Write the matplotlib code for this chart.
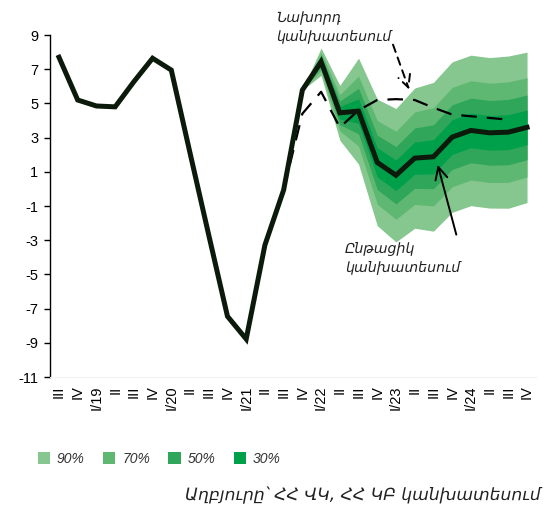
import matplotlib
matplotlib.use("Agg")
import numpy as np
import matplotlib.pyplot as plt
from matplotlib.patches import Patch

# եռամսյակներ՝ 2018 III -> 2024 IV
quarters = ['III', 'IV', 'I/19', 'II', 'III', 'IV', 'I/20', 'II', 'III', 'IV',
            'I/21', 'II', 'III', 'IV', 'I/22', 'II', 'III', 'IV', 'I/23', 'II',
            'III', 'IV', 'I/24', 'II', 'III', 'IV']

# ընթացիկ կանխատեսում (փաստացի + կանխատեսում)
current = [7.7, 5.2, 4.85, 4.8, 6.27, 7.64, 6.95, 2.1, -2.7, -7.45,
           -8.78, -3.28, -0.06, 5.78, 7.44, 4.45, 4.55, 1.55, 0.8, 1.8,
           1.88, 3.03, 3.42, 3.28, 3.32, 3.6]

# նախորդ կանխատեսում
prev_start = 12
previous = [-0.06, 4.4, 5.68, 3.6, 4.6, 5.2, 5.25, 5.2, 4.75, 4.35,
            4.25, 4.15, 4.05]

# 90% միջակայքի կես-լայնություն
fan_start = 13
half90 = [0.0, 0.8, 1.6, 3.1, 3.7, 3.9, 4.1, 4.35, 4.4, 4.4, 4.4, 4.45, 4.4]

levels = ['90%', '70%', '50%', '30%']
level_share = [1.0, 0.66, 0.43, 0.23]
colors = ['#85c78e', '#5fb872', '#30a65b', '#00a04b']

plt.rcParams['font.family'] = ['Liberation Sans', 'DejaVu Sans']
plt.rcParams['axes.unicode_minus'] = False

fig = plt.figure(figsize=(5.53, 5.09), dpi=100)
ax = fig.add_axes([0.0897, 0.2593, 0.8803, 0.6719])

x = np.arange(len(quarters))
xf = x[fan_start:]
cf = np.array(current[fan_start:])
hw = np.array(half90)
for share, col in zip(level_share, colors):
    ax.fill_between(xf, cf - share * hw, cf + share * hw, color=col, lw=0)

xp = x[prev_start:prev_start + len(previous)]
ax.plot(xp, previous, color='black', lw=1.6, dashes=(7, 4.5))
ax.plot(x, current, color='#0b1a0b', lw=3.6, solid_joinstyle='miter')

ax.set_xlim(-0.5, len(quarters) - 0.5)
ax.set_ylim(-11, 9)
ax.set_yticks(np.arange(-11, 10, 2))
ax.set_xticks(x)
ax.set_xticklabels(quarters, rotation=90, fontsize=10.5)
ax.tick_params(axis='x', length=0, pad=6)
ax.tick_params(axis='y', length=4, width=1, pad=4, labelsize=10.5)
for s in ['top', 'right']:
    ax.spines[s].set_visible(False)
ax.spines['bottom'].set_color('#f2f2f2')
ax.spines['left'].set_linewidth(1)

arm = ['DejaVu Sans']
ax.annotate('', xy=(18.75, 5.66), xytext=(17.79, 8.59),
            arrowprops=dict(arrowstyle='->', color='black', lw=1.4,
                            linestyle=(0, (4, 3)), mutation_scale=22))
ax.annotate('', xy=(20.19, 1.56), xytext=(21.26, -2.83),
            arrowprops=dict(arrowstyle='->', color='black', lw=1.4,
                            mutation_scale=22))

fig.text(276 / 553, 1 - 27 / 509, 'Նախորդ\nկանխատեսում', family=arm,
         style='italic', fontsize=10.2, color='#222222', va='center',
         linespacing=1.4)
fig.text(345 / 553, 1 - 258 / 509, 'Ընթացիկ\nկանխատեսում', family=arm,
         style='italic', fontsize=10.2, color='#222222', va='center',
         linespacing=1.4)

handles = [Patch(facecolor=c, edgecolor='none') for c in colors]
leg = fig.legend(handles, levels, loc='center left',
                 bbox_to_anchor=(25 / 553, 1 - 459 / 509), ncol=4,
                 frameon=False, handlelength=0.9, handleheight=0.9,
                 handletextpad=0.5, columnspacing=1.3,
                 prop=dict(style='italic', size=10))
for t in leg.get_texts():
    t.set_color('#333333')

fig.text(541 / 553, 1 - 495 / 509, 'Աղբյուրը՝ ՀՀ ՎԿ, ՀՀ ԿԲ կանխատեսում',
         family=arm, style='italic', fontsize=12.3, color='#222222',
         ha='right', va='center')

fig.savefig('out.png', dpi=100)
